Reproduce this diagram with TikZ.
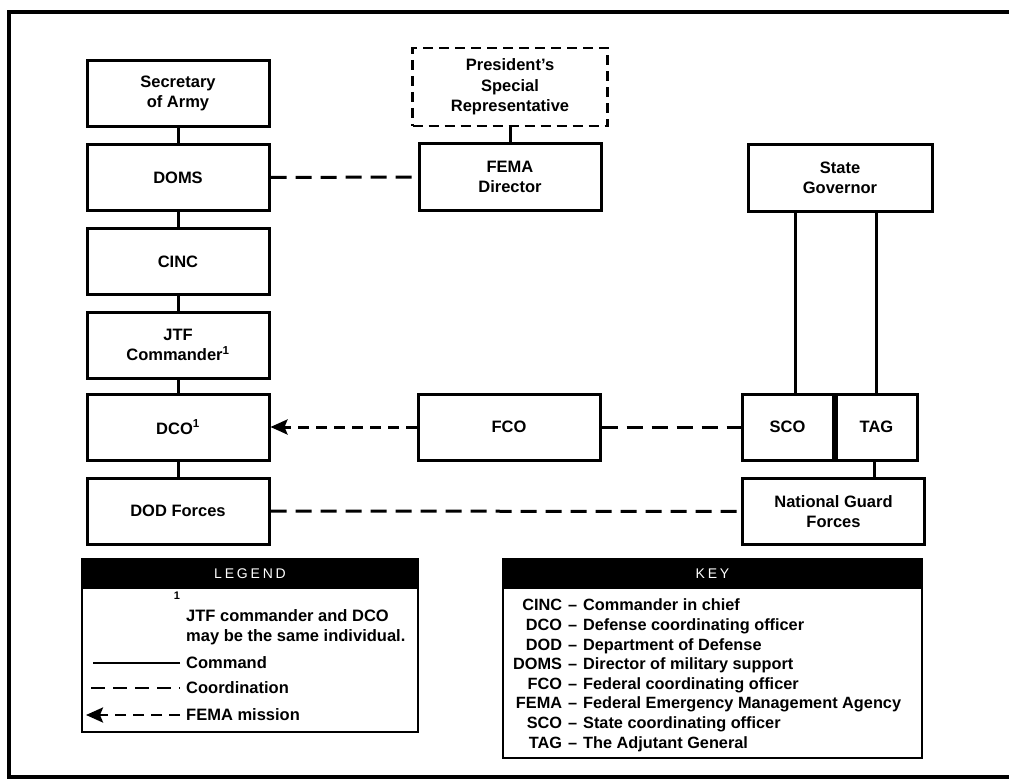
\documentclass[tikz,border=0pt]{standalone}
\usepackage{fontspec}
\setmainfont{Liberation Sans}
\newfontfamily\headfont[LetterSpace=20]{Liberation Sans}
\usetikzlibrary{arrows.meta}
\newcommand{\chartfont}{\fontsize{16.5}{20.5}\selectfont\bfseries}
\newcommand{\keyfont}{\fontsize{16.3}{19.6}\selectfont\bfseries}
\tikzset{>/.tip={Stealth[length=17pt,width=15pt,inset=3pt]}}
\tikzset{
  office/.style={draw, line width=3pt, minimum width=182pt, minimum height=66pt,
    align=center, font=\chartfont, inner sep=2pt},
  envoy/.style={office, dash pattern=on 10pt off 6pt, line width=2.6pt,
    minimum width=195pt, minimum height=78pt},
  command/.style={line width=3pt},
  coordination/.style={line width=3pt, dash pattern=on 16pt off 9pt},
  mission/.style={line width=3pt, dash pattern=on 11pt off 7pt, ->},
  panel/.style={draw, line width=2pt},
  panelhead/.style={draw, line width=2pt, fill=black, text=white,
    minimum height=29pt, font=\headfont\fontsize{14}{14}\selectfont},
  note/.style={font=\chartfont, inner sep=2pt, align=left}
}

\begin{document}
\begin{tikzpicture}[x=1pt, y=-1pt]
\useasboundingbox (0,0) rectangle (1009,781);
\draw[line width=4.5pt] (1015,12) -- (9,12) -- (9,777) -- (1015,777);

% military chain
\node[office] (sec)  at (178,93.5)  {Secretary\\of Army};
\node[office] (doms) at (178,177.5) {DOMS};
\node[office] (cinc) at (178,261.5) {CINC};
\node[office] (jtf)  at (178,345)   {JTF\\Commander\textsuperscript{1}};
\node[office] (dco)  at (178,427)   {DCO\textsuperscript{1}};
\node[office] (dod)  at (178,511)   {DOD Forces};

% federal column
\node[envoy] (psr)   at (510,87)  {President's\\Special\\Representative};
\node[office] (fema) at (510,177) {FEMA\\Director};
\node[office] (fco)  at (509,427) {FCO};

% state column
\node[office, minimum width=184pt] (gov) at (840,178) {State\\Governor};
\node[office, minimum width=91pt] (sco) at (787.5,427) {SCO};
\node[office, minimum width=81pt, anchor=west] (tag) at (sco.east) {TAG};
\node[office] (ngf) at (833.5,511.5) {National Guard\\Forces};

\foreach \a/\b in {sec/doms,doms/cinc,cinc/jtf,jtf/dco,dco/dod,psr/fema}
{
  \draw[command] (\a) to (\b);
}
\draw[command] ([xshift=7.5pt]sco.north) -- ([xshift=7.5pt]sco.north |- gov.south);
\draw[command] (tag.north) -- (tag.north |- gov.south);
\draw[command] ([xshift=-2pt]tag.south) -- ([xshift=-2pt]tag.south |- ngf.north);

\draw[coordination] (doms) to (fema);
\draw[coordination] (fco) to (sco);
\draw[coordination] (dod) to (ngf);
\draw[mission] (fco) to (dco);

% legend
\node[panel, minimum width=336pt, minimum height=173pt] (legend) at (250,645.5) {};
\node[panelhead, minimum width=336pt, anchor=north] (legendhead) at (legend.north) {LEGEND};
\node[note, font=\bfseries\fontsize{11}{11}\selectfont] (mark) at (177,596) {1};
\node[note, anchor=west] (remark) at (184,627) {JTF commander and DCO\\may be the same individual.};
\node[note, anchor=west, inner xsep=6pt] (cmd) at (180,663) {Command};
\node[note, anchor=west, inner xsep=6pt] (crd) at (180,688) {Coordination};
\node[note, anchor=west, inner xsep=6pt] (mis) at (180,715) {FEMA mission};
\coordinate (cmdstart) at (93,663);
\coordinate (crdstart) at (91,688);
\coordinate (mistip)   at (86,715);
\draw[command, line width=2.2pt] (cmd.west) -- (cmdstart);
\draw[coordination, line width=2.6pt, dash pattern=on 14pt off 8pt] (crdstart) -- (crd.west);
\draw[mission, line width=2.6pt] (mis.west) -- (mistip);

% key
\node[panel, minimum width=419pt, minimum height=199pt] (key) at (712.5,658.5) {};
\node[panelhead, minimum width=419pt, anchor=north] (keyhead) at (key.north) {KEY};
\node[anchor=west, inner sep=0pt, font=\keyfont] (keylist) at (513,675.5) {%
  \begin{tabular}{@{}r@{\hspace{6pt}}l@{}}
  CINC & \textendash\hspace{6pt}Commander in chief\\
  DCO  & \textendash\hspace{6pt}Defense coordinating officer\\
  DOD  & \textendash\hspace{6pt}Department of Defense\\
  DOMS & \textendash\hspace{6pt}Director of military support\\
  FCO  & \textendash\hspace{6pt}Federal coordinating officer\\
  FEMA & \textendash\hspace{6pt}Federal Emergency Management Agency\\
  SCO  & \textendash\hspace{6pt}State coordinating officer\\
  TAG  & \textendash\hspace{6pt}The Adjutant General
  \end{tabular}};
\end{tikzpicture}
\end{document}
